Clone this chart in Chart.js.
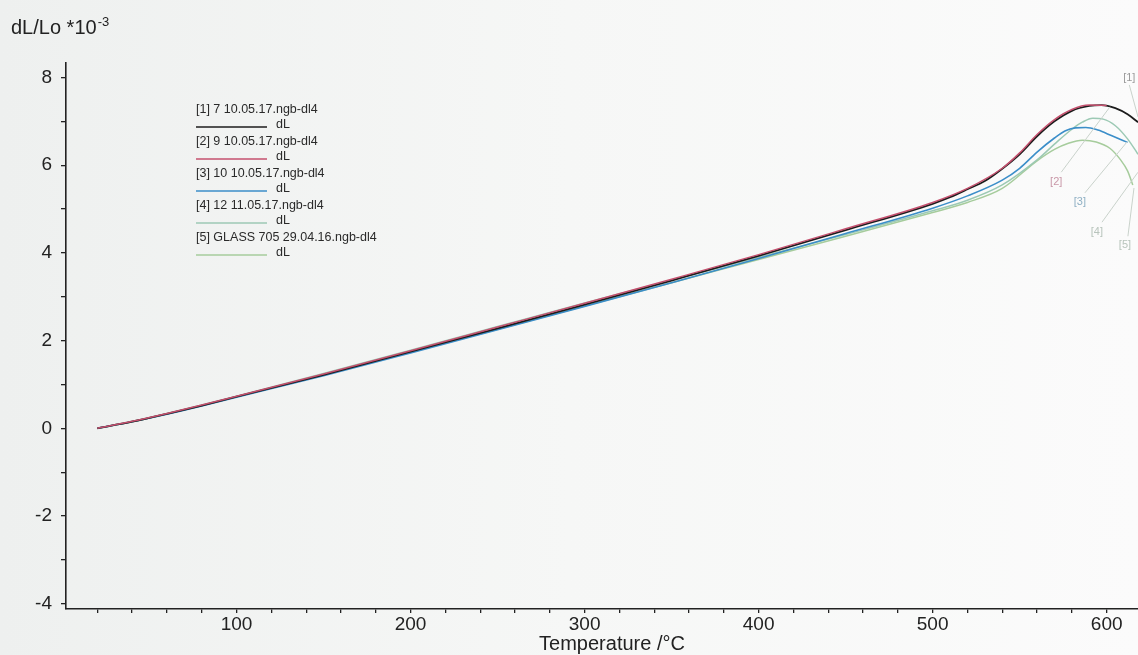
<!DOCTYPE html>
<html>
<head>
<meta charset="utf-8">
<script src="https://cdn.jsdelivr.net/npm/chart.js@4.4.1/dist/chart.umd.min.js"></script>
<style>
  body { margin: 0; background: linear-gradient(90deg, #eef0ef 0%, #f6f7f6 50%, #fbfbfb 100%); }
  #wrap { width: 1138px; height: 655px; position: relative; }
</style>
</head>
<body>
<div id="wrap"><canvas id="myChart"></canvas></div>
<script>
// DATA
let seriesNames = ['[1] 7 10.05.17.ngb-dl4', '[2] 9 10.05.17.ngb-dl4', '[3] 10 10.05.17.ngb-dl4',
  '[4] 12 11.05.17.ngb-dl4', '[5] GLASS 705 29.04.16.ngb-dl4'];
let seriesTags = ['[1]', '[2]', '[3]', '[4]', '[5]'];
let seriesColors = ['#1c1c1c', '#c4506e', '#3b8ec9', '#9cc9b4', '#a6cc9c'];

let temps1 = [20, 40, 60, 80, 100, 150, 200, 250, 300, 350, 400, 450, 500, 510, 520, 530, 540, 550, 560, 570, 580, 590, 597, 605, 612, 618];
let dl1 = [0, 0.15, 0.33, 0.52, 0.72, 1.22, 1.75, 2.28, 2.82, 3.37, 3.93, 4.52, 5.12, 5.27, 5.45, 5.64, 5.92, 6.25, 6.66, 7.0, 7.24, 7.35, 7.37, 7.3, 7.16, 6.98];

let temps2 = [20, 40, 60, 80, 100, 150, 200, 250, 300, 350, 400, 450, 500, 520, 540, 550, 560, 570, 580, 590, 600];
let dl2 = [0, 0.16, 0.34, 0.53, 0.73, 1.24, 1.77, 2.31, 2.85, 3.4, 3.96, 4.55, 5.15, 5.47, 5.93, 6.28, 6.7, 7.04, 7.27, 7.37, 7.36];

let temps3 = [20, 40, 60, 80, 100, 150, 200, 250, 300, 350, 400, 450, 500, 520, 540, 550, 560, 570, 576, 582, 588, 595, 603, 612];
let dl3 = [0, 0.15, 0.32, 0.51, 0.71, 1.2, 1.72, 2.25, 2.78, 3.32, 3.87, 4.44, 5.02, 5.3, 5.66, 5.93, 6.3, 6.62, 6.78, 6.85, 6.86, 6.8, 6.67, 6.52];

let temps4 = [20, 40, 60, 80, 100, 150, 200, 250, 300, 350, 400, 450, 500, 520, 540, 560, 570, 580, 586, 592, 598, 605, 612, 618];
let dl4 = [0, 0.16, 0.34, 0.53, 0.73, 1.25, 1.78, 2.32, 2.86, 3.38, 3.9, 4.42, 4.96, 5.2, 5.55, 6.12, 6.48, 6.82, 6.98, 7.07, 7.05, 6.9, 6.6, 6.25];

let temps5 = [20, 40, 60, 80, 100, 150, 200, 250, 300, 350, 400, 450, 500, 520, 540, 560, 570, 578, 586, 594, 602, 608, 612, 615];
let dl5 = [0, 0.15, 0.33, 0.52, 0.72, 1.22, 1.74, 2.26, 2.79, 3.32, 3.85, 4.38, 4.92, 5.15, 5.47, 6.1, 6.36, 6.5, 6.57, 6.53, 6.38, 6.12, 5.87, 5.55];

let xTicks = [20, 40, 60, 80, 100, 120, 140, 160, 180, 200, 220, 240, 260, 280, 300, 320, 340, 360, 380, 400, 420, 440, 460, 480, 500, 520, 540, 560, 580, 600];
let yTicks = [-4, -3, -2, -1, 0, 1, 2, 3, 4, 5, 6, 7, 8];

// label spots for the tags at the right (text pos, leader from, leader to) in data units
let tagPos = [[613, 7.99], [571, 5.62], [584.6, 5.16], [594.4, 4.47], [610.5, 4.18]];
let tagFrom = [[613, 7.83], [573.9, 5.84], [587.5, 5.37], [597.3, 4.70], [612.2, 4.38]];
let tagTo = [[618, 7.1], [601.9, 7.33], [611.7, 6.53], [618, 5.84], [615.7, 5.48]];

let allTemps = [temps1, temps2, temps3, temps4, temps5];
let allDl = [dl1, dl2, dl3, dl4, dl5];
let widths = [1.8, 1.5, 1.6, 1.5, 1.5];

let datasets = allTemps.map((t, i) => ({
  label: seriesNames[i],
  data: t.map((v, j) => ({ x: v, y: allDl[i][j] })),
  borderColor: seriesColors[i],
  borderWidth: widths[i],
  pointRadius: 0,
  fill: false,
  cubicInterpolationMode: 'monotone',
  order: [2, 1, 3, 4, 5][i]
}));

const FONT = '"Liberation Sans", Arial, sans-serif';

// titles, legend and tags
let extras = {
  id: 'extras',
  afterDraw(chart) {
    let c = chart.ctx;
    let xs = chart.scales.x, ys = chart.scales.y;
    c.save();
    // y title with superscript
    c.fillStyle = '#222';
    c.textBaseline = 'alphabetic';
    c.textAlign = 'left';
    c.font = '20px ' + FONT;
    let t = 'dL/Lo *10';
    c.fillText(t, 11, 34);
    let w = c.measureText(t).width;
    c.font = '13px ' + FONT;
    c.fillText('-3', 11 + w + 1, 26);
    // x title
    c.font = '20px ' + FONT;
    c.textAlign = 'center';
    c.fillText('Temperature /\u00B0C', 612, 650);

    // legend
    c.font = '12.5px ' + FONT;
    c.textAlign = 'left';
    c.textBaseline = 'middle';
    for (let i = 0; i < seriesNames.length; i++) {
      let y0 = 110 + 32 * i;
      c.fillStyle = '#2a2a2a';
      c.fillText(seriesNames[i], 196, y0);
      c.strokeStyle = seriesColors[i];
      c.lineWidth = 1.3;
      c.beginPath();
      c.moveTo(196, y0 + 17);
      c.lineTo(267, y0 + 17);
      c.stroke();
      c.fillText('dL', 276, y0 + 15);
    }

    // tags with leader lines
    c.font = '11px ' + FONT;
    c.textAlign = 'center';
    let tagColors = ['#9a9a9a', '#c998a8', '#8fb0c4', '#b8c4bc', '#b8c4bc'];
    for (let i = 0; i < seriesTags.length; i++) {
      c.strokeStyle = '#c9d2cb';
      c.lineWidth = 1;
      c.beginPath();
      c.moveTo(xs.getPixelForValue(tagFrom[i][0]), ys.getPixelForValue(tagFrom[i][1]));
      c.lineTo(xs.getPixelForValue(tagTo[i][0]), ys.getPixelForValue(tagTo[i][1]));
      c.stroke();
      c.fillStyle = tagColors[i];
      c.fillText(seriesTags[i], xs.getPixelForValue(tagPos[i][0]), ys.getPixelForValue(tagPos[i][1]));
    }
    c.restore();
  }
};

new Chart(document.getElementById('myChart'), {
  type: 'line',
  data: { datasets: datasets },
  options: {
    responsive: true,
    maintainAspectRatio: false,
    animation: false,
    layout: { padding: { top: 63, right: 0, left: 0, bottom: 0 } },
    plugins: { legend: { display: false }, tooltip: { enabled: false } },
    scales: {
      x: {
        type: 'linear',
        min: 2,
        max: 618,
        afterBuildTicks: axis => { axis.ticks = xTicks.map(v => ({ value: v })); },
        afterFit: axis => { axis.height = 46; },
        ticks: {
          autoSkip: false,
          maxRotation: 0,
          padding: 0,
          color: '#222',
          font: { family: FONT, size: 19 },
          callback: v => (v % 100 === 0 ? v : '')
        },
        grid: { drawOnChartArea: false, tickLength: 4, color: '#222', lineWidth: 1.3 },
        border: { display: true, color: '#222', width: 1.6 }
      },
      y: {
        min: -4.12,
        max: 8.33,
        afterBuildTicks: axis => { axis.ticks = yTicks.map(v => ({ value: v })); },
        afterFit: axis => { axis.width = 66; },
        ticks: {
          autoSkip: false,
          padding: 9,
          color: '#222',
          font: { family: FONT, size: 19 },
          callback: v => (v % 2 === 0 ? v : '')
        },
        grid: { drawOnChartArea: false, tickLength: 5, color: '#222', lineWidth: 1.3 },
        border: { display: true, color: '#222', width: 1.6 }
      }
    }
  },
  plugins: [extras]
});
</script>
</body>
</html>
